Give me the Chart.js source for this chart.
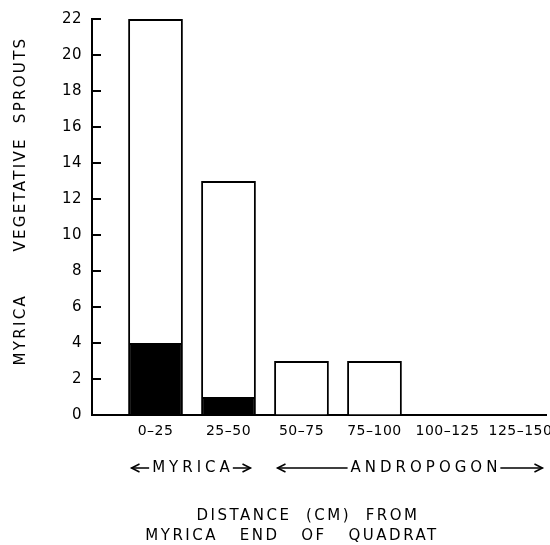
<!DOCTYPE html>
<html>
<head>
<meta charset="utf-8">
<script src="https://cdn.jsdelivr.net/npm/chart.js@4/dist/chart.umd.min.js"></script>
<style>
    html, body { margin: 0; padding: 0; background: #fff; }
    #box { width: 550px; height: 545px; }
</style>
</head>
<body>
<div id="box"><canvas id="chartJS"></canvas></div>
<script>

// DATA - Myrica sprouts by distance class

const categories = ['0–25', '25–50', '50–75', '75–100', '100–125', '125–150']
const darkPart = [4, 1, 0, 0, 0, 0]        /* black bottom part */
const lightPart = [18, 12, 3, 3, 0, 0]     /* white part on top (totals 22, 13, 3, 3) */
const yTicks = [0, 2, 4, 6, 8, 10, 12, 14, 16, 18, 20, 22]

const groups = ['MYRICA', 'ANDROPOGON']
const groupStart = [0, 2]
const groupEnd = [1, 5]

const yTitle = 'MYRICA      VEGETATIVE  SPROUTS'
const xTitle = ['DISTANCE  (CM)  FROM', 'MYRICA   END   OF   QUADRAT']

const FONT = '"DejaVu Sans", sans-serif'

Chart.defaults.font.family = FONT
Chart.defaults.font.size = 14
Chart.defaults.color = '#000'


function arrowHead(ctx, x, y, dir) {
    ctx.beginPath()
    ctx.moveTo(x - dir * 8, y - 4)
    ctx.lineTo(x, y)
    ctx.lineTo(x - dir * 8, y + 4)
    ctx.stroke()
}

// extra drawing: inward ticks, group arrows, titles
const extras = {
    id: 'extras',
    beforeDraw(chart) {
        chart.ctx.letterSpacing = '0.5px'
    },
    afterDraw(chart) {
        const ctx = chart.ctx
        const x = chart.scales.x
        const y = chart.scales.y
        ctx.save()
        ctx.strokeStyle = '#000'
        ctx.fillStyle = '#000'

        // tick marks pointing into the plot
        ctx.lineWidth = 2
        yTicks.forEach(v => {
            const py = y.getPixelForValue(v)
            ctx.beginPath()
            ctx.moveTo(x.left, py)
            ctx.lineTo(x.left + 9, py)
            ctx.stroke()
        })

        // group labels with arrows
        ctx.font = '15px ' + FONT
        ctx.letterSpacing = '4px'
        ctx.textAlign = 'left'
        ctx.textBaseline = 'middle'
        ctx.lineWidth = 1.5
        const rowY = 468
        groups.forEach((g, i) => {
            const a = x.getPixelForValue(groupStart[i]) - 24
            const b = x.getPixelForValue(groupEnd[i]) + 22
            const w = ctx.measureText(g).width - 4
            const mid = (a + b) / 2 + (i === 0 ? 0 : 14)
            ctx.fillText(g, mid - w / 2, rowY)
            ctx.beginPath()
            ctx.moveTo(a, rowY)
            ctx.lineTo(mid - w / 2 - 3, rowY)
            ctx.moveTo(mid + w / 2 + 3, rowY)
            ctx.lineTo(b, rowY)
            ctx.stroke()
            arrowHead(ctx, a, rowY, -1)
            arrowHead(ctx, b, rowY, 1)
        })

        // x title (two lines)
        ctx.font = '15px ' + FONT
        ctx.letterSpacing = '2.5px'
        ctx.textAlign = 'center'
        ctx.fillText(xTitle[0], 308, 516)
        ctx.fillText(xTitle[1], 292, 536)

        // y title
        ctx.font = '15px ' + FONT
        ctx.letterSpacing = '2.3px'
        ctx.translate(21, 201)
        ctx.rotate(-Math.PI / 2)
        ctx.fillText(yTitle, 0, 0)
        ctx.restore()
    }
}


const data = {
    datasets: [
        {
            label: 'dark',
            data: darkPart.map((v, i) => ({ x: i, y: v })),
            backgroundColor: '#000',
            borderColor: '#000',
            borderWidth: 2,
            stack: 's',
        },
        {
            label: 'light',
            data: lightPart.map((v, i) => ({ x: i, y: v })),
            backgroundColor: '#fff',
            borderColor: '#000',
            borderWidth: 2,
            stack: 's',
        },
    ]
}

const config = {
    type: 'bar',
    data: data,
    options: {
        responsive: true,
        maintainAspectRatio: false,
        animation: false,
        categoryPercentage: 1,
        barPercentage: 0.75,
        layout: {
            padding: { top: 19, right: 4, left: 0, bottom: 0 }
        },
        plugins: {
            legend: { display: false },
            tooltip: { enabled: false },
        },
        scales: {
            x: {
                type: 'linear',
                offset: false,
                min: -0.87,
                max: 5.35,
                grid: { offset: false, drawOnChartArea: false, drawTicks: false },
                border: { display: true, color: '#000', width: 2 },
                afterBuildTicks: (scale) => {
                    scale.ticks = categories.map((c, i) => ({ value: i }))
                },
                ticks: {
                    padding: 8,
                    autoSkip: false,
                    maxRotation: 0,
                    font: { size: 14 },
                    callback: (v) => categories[v],
                },
                afterFit: (scale) => {
                    scale.height = 130
                    scale.paddingLeft = 0
                    scale.paddingRight = 0
                },
            },
            y: {
                stacked: true,
                min: 0,
                max: 22,
                grid: { drawOnChartArea: false, drawTicks: false },
                border: { display: true, color: '#000', width: 2 },
                afterBuildTicks: (scale) => {
                    scale.ticks = yTicks.map(v => ({ value: v }))
                },
                ticks: {
                    padding: 10,
                    font: { size: 15 },
                },
                afterFit: (scale) => {
                    scale.width = 92
                    scale.paddingTop = 0
                    scale.paddingBottom = 0
                },
            },
        },
    },
    plugins: [extras],
}

const chart = new Chart(document.getElementById('chartJS'), config)
</script>
</body>
</html>
